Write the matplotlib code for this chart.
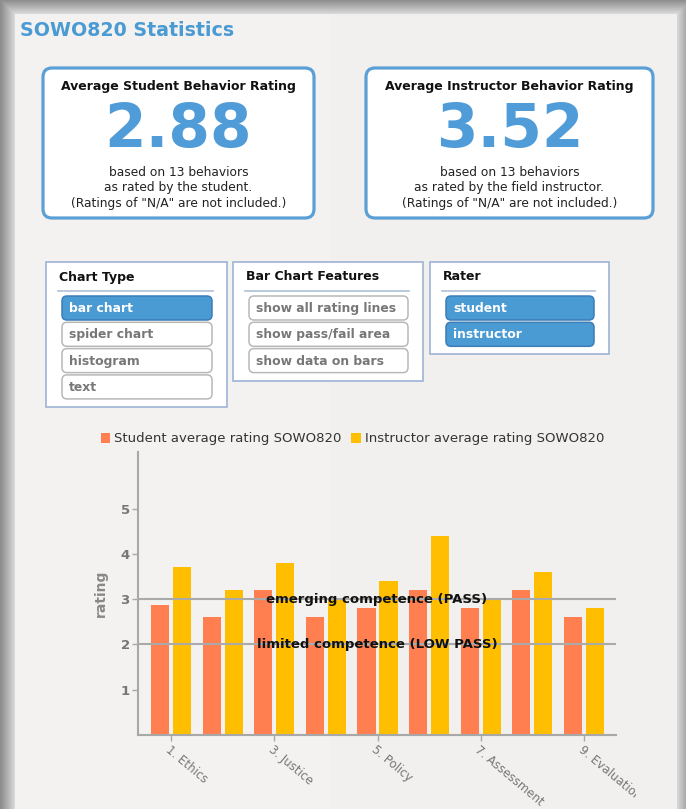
import matplotlib
matplotlib.use("Agg")
import matplotlib.pyplot as plt
from matplotlib.patches import FancyBboxPatch, Rectangle
from matplotlib.transforms import Bbox
import numpy as np

plt.rcParams['font.family'] = ['DejaVu Sans']

# ---- data ----
groups = [1, 2, 3, 4, 5, 6, 7, 8, 9]
student = [2.88, 2.6, 3.2, 2.6, 2.8, 3.2, 2.8, 3.2, 2.6]
instructor = [3.71, 3.2, 3.8, 3.0, 3.4, 4.4, 3.0, 3.6, 2.8]
tick_groups = [1, 3, 5, 7, 9]
tick_labels = ["1. Ethics", "3. Justice", "5. Policy", "7. Assessment", "9. Evaluation"]
yticks = [1, 2, 3, 4, 5]
ref_lines = [3, 2]
ref_texts = ["emerging competence (PASS)", "limited competence (LOW PASS)"]
legend_labels = ["Student average rating SOWO820", "Instructor average rating SOWO820"]

avg_student = "2.88"
avg_instructor = "3.52"
card_titles = ["Average Student Behavior Rating", "Average Instructor Behavior Rating"]
card_lines = [["based on 13 behaviors", "as rated by the student.", '(Ratings of "N/A" are not included.)'],
              ["based on 13 behaviors", "as rated by the field instructor.", '(Ratings of "N/A" are not included.)']]

chart_types = ["bar chart", "spider chart", "histogram", "text"]
features = ["show all rating lines", "show pass/fail area", "show data on bars"]
raters = ["student", "instructor"]

ORANGE = "#FF7F50"
YELLOW = "#FFBF00"
BLUE = "#4A9AD4"
GRAY = "#777777"

W, H = 686, 809
fig = plt.figure(figsize=(W / 100, H / 100), dpi=100)
fig.patch.set_facecolor("#8e8e8e")

# background layer in pixel coordinates
bg = fig.add_axes([0, 0, 1, 1])
bg.set_xlim(0, W)
bg.set_ylim(H, 0)
bg.axis("off")

# soft shadow around the page
px0, py0, px1 = 15, 14, 677
for k in range(14, 0, -1):
    c = 0.56 + (14 - k) * 0.022
    bg.add_patch(Rectangle((px0 - k, py0 - k), px1 - px0 + 2 * k, H, color=(c, c, c), lw=0))
bg.add_patch(Rectangle((px0, py0), px1 - px0, H, color="#F4F2F0", lw=0))
bg.add_patch(Rectangle((330, py0), px1 - 330, H, color="#F0F0EE", lw=0, alpha=0.6))

bg.text(20, 30, "SOWO820 Statistics", color=BLUE, fontsize=13.7, fontweight="bold", va="center")

# summary cards
cards = [(43, 68, 271, 150), (366, 68, 287, 150)]
for (x, y, w, h), title, big, lines in zip(cards, card_titles, [avg_student, avg_instructor], card_lines):
    bg.add_patch(FancyBboxPatch((x, y), w, h, boxstyle="round,pad=0,rounding_size=9",
                                fc="white", ec="#5A9FD6", lw=2.3))
    cx = x + w / 2
    bg.text(cx, 86, title, ha="center", va="center", fontsize=9, fontweight="bold", color="#111111")
    bg.text(cx, 130, big, ha="center", va="center", fontsize=43, fontweight="bold", color="#4F9CD8")
    for i, t in enumerate(lines):
        bg.text(cx, 172 + i * 15.5, t, ha="center", va="center", fontsize=8.8, color="#222222")


def panel(x, y, w, h, title, items, selected):
    bg.add_patch(Rectangle((x, y), w, h, fc="white", ec="#9DB3D4", lw=1.2))
    bg.text(x + 13, 277, title, ha="left", va="center", fontsize=9, fontweight="bold", color="#111111")
    bg.plot([x + 12, x + w - 14], [291, 291], color="#AFC0D8", lw=1.2)
    for i, it in enumerate(items):
        by = 296 + i * 26.3
        sel = it in selected
        bg.add_patch(FancyBboxPatch((x + 16, by), w - 31, 24, boxstyle="round,pad=0,rounding_size=5",
                                    fc=BLUE if sel else "white", ec="#3C7DB5" if sel else "#B8B8B8", lw=1.1))
        bg.text(x + 23, by + 12.5, it, ha="left", va="center", fontsize=8.9, fontweight="bold",
                color="white" if sel else "#777777")


panel(46, 262, 181, 145, "Chart Type", chart_types, ["bar chart"])
panel(233, 262, 190, 119, "Bar Chart Features", features, [])
panel(430, 262, 179, 92, "Rater", raters, raters)

# ---- bar chart ----
ax = fig.add_axes([138 / W, 1 - 735 / H, (616 - 138) / W, (735 - 452) / H])
ax.patch.set_alpha(0)
x = np.arange(len(groups))
bw = 0.35
b1 = ax.bar(x - 0.213, student, bw, color=ORANGE, label=legend_labels[0], zorder=2)
b2 = ax.bar(x + 0.213, instructor, bw, color=YELLOW, label=legend_labels[1], zorder=2)
ax.set_xlim(-0.64, 8.62)
ax.set_ylim(0, 6.25)

for yv, t in zip(ref_lines, ref_texts):
    ax.axhline(yv, color="#AAAAAA", lw=1.5, zorder=3)
    ax.text(0.5, yv, t, transform=ax.get_yaxis_transform(), ha="center", va="center",
            fontsize=9.5, fontweight="bold", color="#111111", zorder=4)

for s in ["top", "right"]:
    ax.spines[s].set_visible(False)
for s in ["left", "bottom"]:
    ax.spines[s].set_color("#A8A8A8")
    ax.spines[s].set_linewidth(1.5)

ax.set_yticks(yticks)
ax.set_yticklabels([str(v) for v in yticks], fontsize=9.5, fontweight="bold", color=GRAY)
ax.set_xticks([g - 1 for g in tick_groups])
ax.set_xticklabels(tick_labels, rotation=-40, ha="left", va="top", rotation_mode="anchor",
                   fontsize=8.5, color=GRAY)
ax.tick_params(axis="both", length=4, color="#A8A8A8", width=1)
ax.tick_params(axis="y", pad=2)
ax.tick_params(axis="x", pad=2)
ax.set_ylabel("rating", fontsize=10, fontweight="bold", color="#888888", labelpad=9)

clip = Bbox.from_extents(0, 0, 636, H)
for lab in ax.get_xticklabels():
    lab.set_clip_box(clip)
    lab.set_clip_on(True)

ax.legend(handles=[b1, b2], loc="lower left", bbox_to_anchor=(-0.095, 0.995), ncol=2, frameon=False,
          fontsize=9.5, handlelength=0.75, handleheight=0.75, handletextpad=0.3, columnspacing=0.7,
          labelcolor="#333333", borderaxespad=0.2)

fig.savefig("out.png", dpi=100, facecolor=fig.get_facecolor())
